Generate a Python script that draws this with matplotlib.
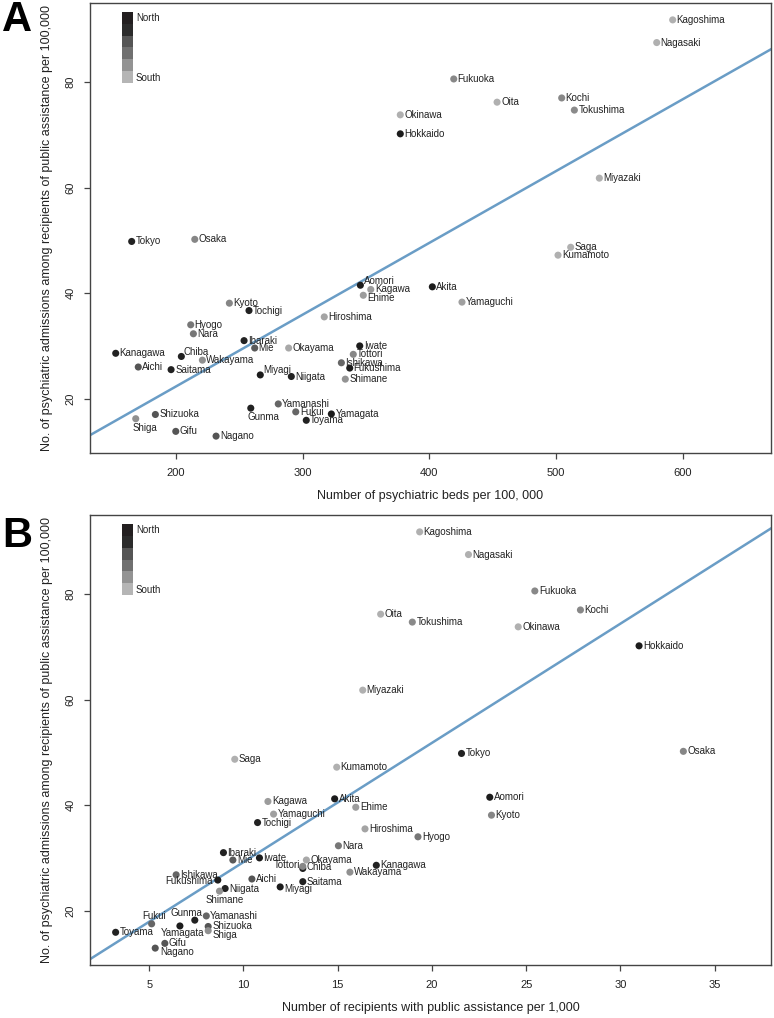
import matplotlib
matplotlib.use("Agg")
import matplotlib.pyplot as plt
from matplotlib.patches import Rectangle
from matplotlib import font_manager

names = {f.name for f in font_manager.fontManager.ttflist}
FONT = "Liberation Sans" if "Liberation Sans" in names else "DejaVu Sans"
plt.rcParams["font.family"] = [FONT, "DejaVu Sans"]

# ---------------- data ----------------
prefectures = ["Hokkaido", "Aomori", "Iwate", "Miyagi", "Akita", "Yamagata", "Fukushima",
               "Ibaraki", "Tochigi", "Gunma", "Saitama", "Chiba", "Tokyo", "Kanagawa",
               "Niigata", "Toyama", "Ishikawa", "Fukui", "Yamanashi", "Nagano", "Gifu",
               "Shizuoka", "Aichi", "Mie", "Shiga", "Kyoto", "Osaka", "Hyogo", "Nara",
               "Wakayama", "Tottori", "Shimane", "Okayama", "Hiroshima", "Yamaguchi",
               "Tokushima", "Kagawa", "Ehime", "Kochi", "Fukuoka", "Saga", "Nagasaki",
               "Kumamoto", "Oita", "Miyazaki", "Kagoshima", "Okinawa"]

# psychiatric admissions among recipients of public assistance per 100,000
admissions = [70.2, 41.5, 30.0, 24.5, 41.2, 17.1, 25.8,
              31.0, 36.7, 18.2, 25.5, 28.0, 49.8, 28.6,
              24.2, 15.9, 26.8, 17.5, 19.0, 12.9, 13.8,
              17.0, 26.0, 29.6, 16.2, 38.1, 50.2, 34.0, 32.3,
              27.3, 28.4, 23.7, 29.6, 35.5, 38.3,
              74.7, 40.7, 39.6, 77.0, 80.6, 48.7, 87.5,
              47.2, 76.2, 61.8, 91.8, 73.8]

# psychiatric beds per 100,000
beds = [377.0, 345.5, 345.0, 266.5, 402.3, 322.6, 337.1,
        253.7, 257.6, 259.0, 196.1, 204.2, 165.0, 152.4,
        291.0, 302.8, 330.5, 294.5, 280.7, 231.6, 199.8,
        183.7, 170.2, 262.1, 168.2, 242.1, 214.8, 211.6, 213.7,
        220.8, 339.9, 333.6, 288.9, 317.0, 425.7,
        514.4, 353.7, 347.8, 504.4, 419.2, 511.5, 579.4,
        501.5, 453.4, 534.1, 592.0, 377.0]

# recipients with public assistance per 1,000
recipients = [30.99, 23.07, 10.85, 11.95, 14.84, 6.63, 8.64,
              8.94, 10.75, 7.42, 13.15, 13.15, 21.57, 17.05,
              9.03, 3.22, 6.43, 5.13, 8.03, 5.32, 5.83,
              8.13, 10.45, 9.44, 8.13, 23.16, 33.34, 19.26, 15.04,
              15.65, 13.15, 8.73, 13.34, 16.45, 11.6,
              18.96, 11.3, 15.96, 27.88, 25.46, 9.54, 21.94,
              14.95, 17.28, 16.33, 19.35, 24.58]

# grey shade of each prefecture (north = dark, south = light)
shades = ["#1c1c1c", "#1c1c1c", "#1c1c1c", "#1c1c1c", "#1c1c1c", "#1c1c1c", "#1c1c1c",
          "#222222", "#222222", "#222222", "#222222", "#222222", "#222222", "#222222",
          "#222222", "#222222", "#666666", "#666666", "#666666", "#555555", "#555555",
          "#555555", "#555555", "#5a5a5a", "#909090", "#868686", "#868686", "#777777", "#777777",
          "#909090", "#888888", "#939393", "#a8a8a8", "#a4a4a4", "#a0a0a0",
          "#8a8a8a", "#9c9c9c", "#9c9c9c", "#888888", "#888888", "#b0b0b0", "#b0b0b0",
          "#b0b0b0", "#b0b0b0", "#b0b0b0", "#b0b0b0", "#b0b0b0"]

legend_shades = ["#231f20", "#2b2b2b", "#555555", "#707070", "#939393", "#b5b5b5"]

fitA = (-4.9, 0.1361)   # intercept, slope
fitB = (6.6, 2.26)

# label placement (dx, dy in pixels, ha, va); default = right of the point
labA = {"Gunma": (-3, -9, "left", "center"), "Shiga": (-3, -9, "left", "center"),
        "Aomori": (4, 4, "left", "center"), "Chiba": (2, 4, "left", "center"),
        "Miyagi": (3, 5, "left", "center"), "Ehime": (4, -3, "left", "center")}
labB = {"Tottori": (-3, 1, "right", "center"), "Fukushima": (-5, -1, "right", "center"),
        "Shimane": (5, -9, "center", "center"), "Fukui": (2, 8, "center", "center"),
        "Gunma": (-8, 7, "center", "center"), "Yamagata": (3, -7, "center", "center"),
        "Nagano": (5, -4, "left", "center"), "Shiga": (4, -4, "left", "center"),
        "Miyagi": (4, -2, "left", "center"), "Chiba": (4, 1, "left", "center")}

W, H = 774, 1018
fig = plt.figure(figsize=(W / 100, H / 100), dpi=100)

LINE = "#6a9dc6"
FRAME = "#444444"
TXT = "#222222"


def make_axes(top, bottom):
    ax = fig.add_axes([90 / W, 1 - bottom / H, 681 / W, (bottom - top) / H])
    for s in ax.spines.values():
        s.set_color(FRAME)
        s.set_linewidth(1.0)
    ax.tick_params(direction="out", length=4.5, width=0.9, color=FRAME,
                   labelsize=8, labelcolor=TXT, pad=6)
    return ax


def draw(ax, xs, labs, fit, xlim, xticks, xlabel):
    ax.set_xlim(*xlim)
    ax.set_ylim(9.7, 95.0)
    ax.set_xticks(xticks)
    ax.set_yticks([20, 40, 60, 80])
    for lab in ax.get_yticklabels():
        lab.set_rotation(90)
        lab.set_va("center")
    ax.plot(xlim, [fit[0] + fit[1] * xlim[0], fit[0] + fit[1] * xlim[1]],
            color=LINE, lw=1.8, zorder=1)
    ax.scatter(xs, admissions, s=26, c=shades, edgecolors="none", zorder=3)
    for name, x, y in zip(prefectures, xs, admissions):
        dx, dy, ha, va = labs.get(name, (4, 0, "left", "center"))
        ax.annotate(name, (x, y), xytext=(dx * 0.72, dy * 0.72), textcoords="offset points",
                    ha=ha, va=va, fontsize=7, color=TXT, zorder=4)
    ax.set_xlabel(xlabel, fontsize=9, color=TXT, labelpad=9)
    ax.set_ylabel("No. of psychiatric admissions among recipients of public assistance per 100,000",
                  fontsize=9, color=TXT, labelpad=9)


axA = make_axes(3, 453)
draw(axA, beds, labA, fitA, (132.1, 669.6), [200, 300, 400, 500, 600],
     "Number of psychiatric beds per 100, 000")
axB = make_axes(515, 965)
draw(axB, recipients, labB, fitB, (1.86, 37.99), [5, 10, 15, 20, 25, 30, 35],
     "Number of recipients with public assistance per 1,000")

# panel letters
fig.text(2 / W, 1 - 20 / H, "A", fontsize=30, fontweight="bold", va="center", ha="left")
fig.text(2 / W, 1 - 536 / H, "B", fontsize=30, fontweight="bold", va="center", ha="left")

# North/South legends
for top in (12, 524):
    n = len(legend_shades)
    h = 71 / n
    for i, c in enumerate(legend_shades):
        fig.patches.append(Rectangle((122 / W, 1 - (top + (i + 1) * h) / H), 11 / W, h / H,
                                     transform=fig.transFigure, facecolor=c, edgecolor="none"))
    fig.text(136 / W, 1 - (top + 6) / H, "North", fontsize=7, va="center", color=TXT)
    fig.text(136 / W, 1 - (top + 66) / H, "South", fontsize=7, va="center", color=TXT)

fig.savefig("out.png", dpi=100)
